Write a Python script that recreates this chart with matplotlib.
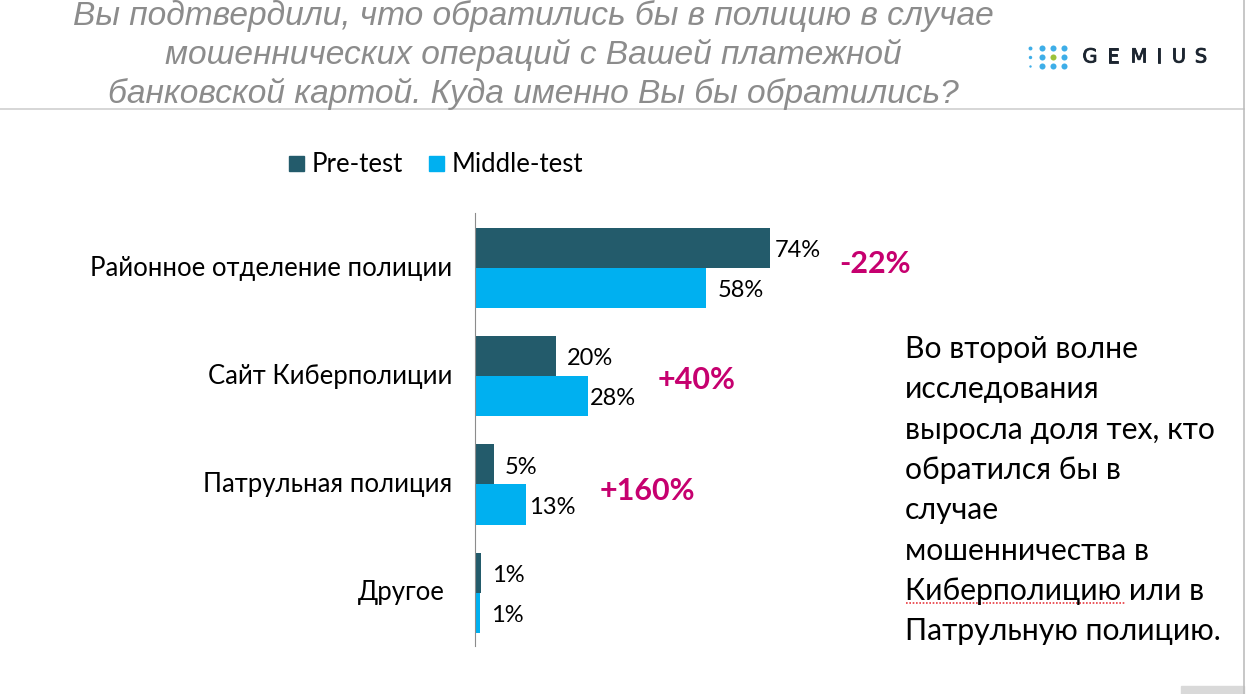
import numpy as np
from matplotlib import pyplot as plt
from matplotlib import patheffects
from matplotlib.lines import Line2D
from matplotlib.patches import Rectangle

W, H = 1246, 694

categories = ['Районное отделение полиции', 'Сайт Киберполиции', 'Патрульная полиция', 'Другое']
pre_test = [74, 20.3, 4.8, 1.4]
middle_test = [58, 28.4, 12.8, 1.2]
changes = ['-22%', '+40%', '+160%']
change_x = [875, 697, 647]
change_y = [264, 380, 491]
title_lines = ['Вы подтвердили, что обратились бы в полицию в случае',
               'мошеннических операций с Вашей платежной',
               'банковской картой. Куда именно Вы бы обратились?']
title_x = [533, 533, 533]
title_y = [16, 55, 94]
note_lines = ['Во второй волне', 'исследования', 'выросла доля тех, кто', 'обратился бы в', 'случае',
              'мошенничества в', 'Киберполицию или в', 'Патрульную полицию.']

plt.rcParams['font.family'] = ['Lato', 'Open Sans', 'DejaVu Sans']

fig = plt.figure(figsize=(W / 100, H / 100), dpi=100)


def px(x, y):
    return x / W, 1 - y / H


ax = fig.add_axes([475 / W, 1 - 646 / H, (W - 475) / W, 433 / H])
y = np.arange(len(categories))
ax.barh(y - 0.177, pre_test, height=0.37, color='#235b6b')
ax.barh(y + 0.193, middle_test, height=0.37, color='#00b0f0')
ax.set_xlim(0, (W - 475) / 3.985)
ax.set_ylim(3.5, -0.5)
ax.set_xticks([])
ax.set_yticks([])
for side in ['top', 'right', 'bottom']:
    ax.spines[side].set_visible(False)
ax.spines['left'].set_color('#8c8c8c')
ax.patch.set_alpha(0)

# data labels sit a bit off the bar ends, the offset differs per bar
pre_offset = [5, 11, 11, 11]
mid_offset = [12, 2, 3, 11]
for i in range(len(categories)):
    ax.annotate(f'{pre_test[i]:.0f}%', (pre_test[i], i - 0.185), xytext=(pre_offset[i] * 0.72, -2.5),
                textcoords='offset points', va='center', fontsize=17, color='black')
    ax.annotate(f'{middle_test[i]:.0f}%', (middle_test[i], i + 0.185), xytext=(mid_offset[i] * 0.72, -2.5),
                textcoords='offset points', va='center', fontsize=17, color='black')
    x_t, y_t = px(452 if i < 3 else 445, 268.5 + 108 * i)
    fig.text(x_t, y_t, categories[i], ha='right', va='center', fontsize=18.5, color='black')

for i in range(len(changes)):
    x_t, y_t = px(change_x[i], change_y[i])
    fig.text(x_t, y_t, changes[i], ha='center', va='center', fontsize=22, fontweight='bold', color='#c6006f')

# legend
for lx, c, name, tx in [(289, '#235b6b', 'Pre-test', 312), (429, '#00b0f0', 'Middle-test', 452)]:
    fig.patches.append(Rectangle((lx / W, 1 - 171 / H), 15 / W, 15 / H, transform=fig.transFigure, color=c))
    x_t, y_t = px(tx, 165)
    fig.text(x_t, y_t, name, va='center', fontsize=18.5, color='black')

# title
for i in range(len(title_lines)):
    x_t, y_t = px(title_x[i], title_y[i])
    fig.text(x_t, y_t, title_lines[i], ha='center', va='center', fontsize=24.1, style='italic',
             family='Liberation Sans', color='#8c8c8c')

# side note
for i in range(len(note_lines)):
    x_t, y_t = px(905, 349 + 40.3 * i)
    fig.text(x_t, y_t, note_lines[i], va='center', fontsize=21.7, color='black')

# spell check underline
fig.add_artist(Line2D([906 / W, 1125 / W], [1 - 603 / H, 1 - 603 / H], color='#e8393f', lw=1.2, ls=(0, (1, 1))))

# header rule, slide edge, corner block
fig.add_artist(Line2D([0, 1244 / W], [1 - 109 / H, 1 - 109 / H], color='#cfcfcf', lw=1.2))
fig.add_artist(Line2D([1244 / W, 1244 / W], [0, 1], color='#bdbdbd', lw=1.2))
fig.patches.append(Rectangle((1181 / W, 0), 63 / W, 8 / H, transform=fig.transFigure, color='#d9d9d9'))

# logo
dot_x = [1030, 1042, 1053, 1064]
dot_y = [48, 57, 66]
dot_size = [[8, 19, 19, 19], [6, 19, 19, 19], [3, 19, 19, 19]]
logo_ax = fig.add_axes([0, 0, 1, 1])
logo_ax.set_xlim(0, W)
logo_ax.set_ylim(H, 0)
logo_ax.axis('off')
for r in range(3):
    for c in range(4):
        col = '#9cc23a' if (r == 1 and c == 2) else '#3eaee8'
        logo_ax.scatter(dot_x[c], dot_y[r], s=dot_size[r][c], color=col, linewidths=0)
letters = 'GEMIUS'
letter_x = [1090, 1113, 1139, 1159, 1179, 1201]
for ch, lx in zip(letters, letter_x):
    logo_ax.text(lx, 57, ch, ha='center', va='center', fontsize=14, color='#1c2530', family='DejaVu Sans',
                 path_effects=[patheffects.withStroke(linewidth=0.6, foreground='#1c2530')])

fig.savefig('out.png', dpi=100)
